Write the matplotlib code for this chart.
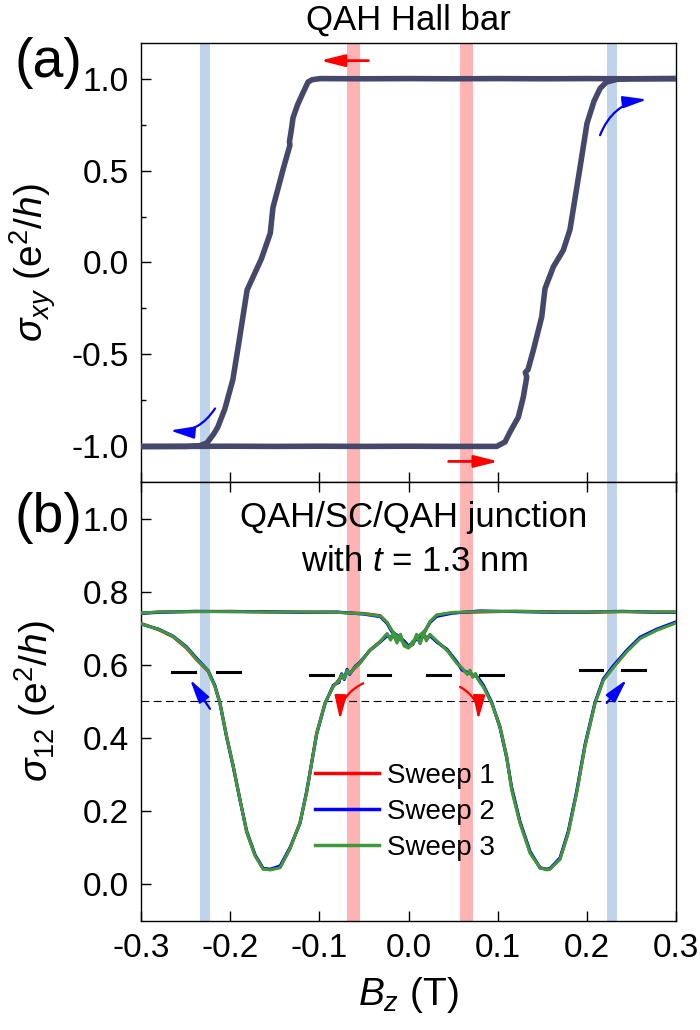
import numpy as np
import matplotlib
matplotlib.use("Agg")
import matplotlib.pyplot as plt
from matplotlib.ticker import MultipleLocator, FormatStrFormatter

plt.rcParams['font.family'] = ['Liberation Sans', 'DejaVu Sans']
plt.rcParams['mathtext.fontset'] = 'custom'
plt.rcParams['mathtext.rm'] = 'Liberation Sans'
plt.rcParams['mathtext.it'] = 'Liberation Sans:italic'
plt.rcParams['mathtext.bf'] = 'Liberation Sans:bold'
plt.rcParams['axes.unicode_minus'] = False


# (a) Hall bar hysteresis loop, sigma_xy in e^2/h
hb_down_x = [0.300, 0.250, 0.200, 0.150, 0.100, 0.050, 0.000, -0.050, -0.099, -0.108,
             -0.1127, -0.116, -0.118, -0.1245, -0.1295, -0.1315, -0.1335, -0.133, -0.140, -0.152,
             -0.155, -0.165, -0.181, -0.190, -0.197, -0.206, -0.214, -0.219, -0.226, -0.234,
             -0.250, -0.300]
hb_down_y = [1.004, 1.003, 1.004, 1.003, 1.004, 1.003, 1.004, 1.003, 1.004, 0.998,
             0.985, 0.95, 0.93, 0.86, 0.79, 0.72, 0.66, 0.64, 0.52, 0.30,
             0.16, 0.02, -0.15, -0.43, -0.64, -0.80, -0.90, -0.94, -0.985, -1.0,
             -1.004, -1.005]
hb_up_x = [-0.300, -0.250, -0.200, -0.150, -0.100, -0.050, 0.000, 0.050, 0.0989, 0.1082,
           0.1138, 0.1232, 0.1288, 0.1326, 0.1310, 0.134, 0.140, 0.1494, 0.1531, 0.1624,
           0.1736, 0.1811, 0.1924, 0.2002, 0.2080, 0.2148, 0.222, 0.2338, 0.250, 0.300]
hb_up_y = [-1.004, -1.004, -1.003, -1.004, -1.003, -1.004, -1.003, -1.004, -1.004, -0.98,
           -0.926, -0.844, -0.734, -0.625, -0.60, -0.585, -0.479, -0.297, -0.142, -0.024,
           0.067, 0.18, 0.52, 0.76, 0.88, 0.95, 0.985, 1.0, 1.003, 1.004]

# (b) junction sigma_12, branch dipping on the left (L) and on the right (R)
jl_x = [-0.300, -0.280, -0.264, -0.249, -0.2375, -0.2245, -0.217, -0.2114, -0.204, -0.1965,
        -0.189, -0.1815, -0.172, -0.163, -0.155, -0.144, -0.133, -0.1217, -0.1142, -0.103,
        -0.0936, -0.0843, -0.078, -0.075, -0.072, -0.069, -0.066, -0.060, -0.0544, -0.0432,
        -0.032, -0.024, -0.020, -0.017, -0.013, -0.009, -0.005, 0.000, 0.005, 0.0129,
        0.0185, 0.0241, 0.0316, 0.050, 0.080, 0.120, 0.160, 0.200, 0.240, 0.280, 0.300]
jl_s1 = [0.714, 0.696, 0.677, 0.646, 0.614, 0.582, 0.541, 0.496, 0.405, 0.323,
         0.232, 0.142, 0.078, 0.042, 0.040, 0.046, 0.096, 0.169, 0.251, 0.414,
         0.496, 0.541, 0.560, 0.572, 0.566, 0.582, 0.578, 0.592, 0.605, 0.641,
         0.664, 0.684, 0.670, 0.688, 0.662, 0.680, 0.655, 0.648, 0.664, 0.682,
         0.691, 0.718, 0.736, 0.743, 0.745, 0.747, 0.746, 0.744, 0.746, 0.745, 0.745]
jl_s2 = [0.712, 0.698, 0.679, 0.650, 0.618, 0.584, 0.543, 0.494, 0.402, 0.320,
         0.230, 0.146, 0.080, 0.043, 0.041, 0.050, 0.100, 0.166, 0.255, 0.410,
         0.494, 0.545, 0.552, 0.576, 0.560, 0.588, 0.574, 0.596, 0.608, 0.640,
         0.662, 0.680, 0.676, 0.682, 0.666, 0.674, 0.660, 0.650, 0.662, 0.680,
         0.694, 0.716, 0.733, 0.742, 0.748, 0.746, 0.744, 0.745, 0.747, 0.744, 0.744]
jl_s3 = [0.713, 0.697, 0.678, 0.648, 0.615, 0.583, 0.540, 0.495, 0.404, 0.322,
         0.231, 0.143, 0.077, 0.041, 0.039, 0.045, 0.097, 0.168, 0.252, 0.412,
         0.495, 0.542, 0.556, 0.574, 0.562, 0.585, 0.576, 0.594, 0.606, 0.640,
         0.663, 0.686, 0.668, 0.690, 0.660, 0.684, 0.652, 0.646, 0.665, 0.683,
         0.692, 0.719, 0.737, 0.744, 0.746, 0.747, 0.745, 0.745, 0.746, 0.745, 0.745]

jr_x = [-0.300, -0.280, -0.240, -0.200, -0.160, -0.120, -0.080, -0.050, -0.0316, -0.0241,
        -0.0185, -0.0129, -0.005, 0.000, 0.005, 0.009, 0.013, 0.017, 0.020, 0.024,
        0.032, 0.0432, 0.0544, 0.060, 0.066, 0.069, 0.072, 0.075, 0.078, 0.0839,
        0.0933, 0.1026, 0.1101, 0.1157, 0.125, 0.1363, 0.1475, 0.155, 0.1587, 0.1699,
        0.1792, 0.1886, 0.1979, 0.2092, 0.2185, 0.2297, 0.2447, 0.2596, 0.2783, 0.300]
jr_s1 = [0.742, 0.745, 0.746, 0.747, 0.745, 0.745, 0.744, 0.741, 0.735, 0.716,
         0.693, 0.680, 0.662, 0.650, 0.656, 0.680, 0.660, 0.690, 0.668, 0.682,
         0.664, 0.641, 0.605, 0.590, 0.576, 0.584, 0.568, 0.575, 0.562, 0.541,
         0.496, 0.432, 0.350, 0.260, 0.169, 0.087, 0.046, 0.040, 0.042, 0.069,
         0.142, 0.251, 0.378, 0.496, 0.559, 0.594, 0.637, 0.673, 0.696, 0.716]
jr_s2 = [0.741, 0.744, 0.747, 0.746, 0.746, 0.744, 0.745, 0.739, 0.732, 0.714,
         0.690, 0.682, 0.666, 0.652, 0.660, 0.674, 0.664, 0.684, 0.672, 0.680,
         0.662, 0.643, 0.608, 0.586, 0.580, 0.578, 0.572, 0.570, 0.566, 0.545,
         0.498, 0.428, 0.345, 0.265, 0.172, 0.090, 0.044, 0.041, 0.043, 0.072,
         0.145, 0.255, 0.382, 0.498, 0.562, 0.598, 0.640, 0.676, 0.698, 0.718]
jr_s3 = [0.742, 0.745, 0.746, 0.746, 0.745, 0.745, 0.744, 0.740, 0.734, 0.717,
         0.694, 0.679, 0.660, 0.648, 0.657, 0.684, 0.658, 0.692, 0.666, 0.684,
         0.665, 0.640, 0.604, 0.592, 0.574, 0.586, 0.566, 0.577, 0.560, 0.540,
         0.495, 0.430, 0.348, 0.258, 0.167, 0.085, 0.045, 0.039, 0.041, 0.068,
         0.140, 0.250, 0.377, 0.495, 0.558, 0.593, 0.636, 0.672, 0.695, 0.715]

sweep_labels = ["Sweep 1", "Sweep 2", "Sweep 3"]
sweep_colors = ["#ff0000", "#0000ff", "#3c9a3c"]

# shaded field positions (T)
blue_bands = [-0.228, 0.228]
red_bands = [-0.062, 0.065]

# half-quantized plateau markers: (start, end, level)
plateaus = [(-0.2656, -0.2394, 0.582), (-0.2151, -0.1889, 0.582),
            (-0.1105, -0.0843, 0.573), (-0.0451, -0.0207, 0.573),
            (0.0204, 0.0465, 0.573), (0.0800, 0.1063, 0.573),
            (0.1923, 0.2167, 0.585), (0.2390, 0.2650, 0.585)]


fig = plt.figure(figsize=(7, 10.3), dpi=100)
ax1 = fig.add_axes([0.20143, 0.53175, 0.76429, 0.42680])
ax2 = fig.add_axes([0.20143, 0.10612, 0.76429, 0.42563])

for ax in (ax1, ax2):
    for b in blue_bands:
        ax.axvspan(b - 0.0056, b + 0.0056, color="#bfd4ea", lw=0, zorder=0)
    for b in red_bands:
        ax.axvspan(b - 0.0075, b + 0.0075, color="#ffb3b3", lw=0, zorder=0)
    ax.set_xlim(-0.3, 0.3)
    ax.xaxis.set_major_locator(MultipleLocator(0.1))
    ax.xaxis.set_major_formatter(FormatStrFormatter('%.1f'))
    ax.yaxis.set_major_formatter(FormatStrFormatter('%.1f'))
    ax.tick_params(which='both', direction='in', width=1, labelsize=24, pad=9,
                   top=False, right=False)
    ax.tick_params(which='major', length=7)
    ax.tick_params(which='minor', length=3.6)
    for s in ax.spines.values():
        s.set_linewidth(1)

# (a)
ax1.plot(hb_down_x, hb_down_y, color="#45476b", lw=4, solid_capstyle='round',
         solid_joinstyle='round', zorder=3)
ax1.plot(hb_up_x, hb_up_y, color="#45476b", lw=4, solid_capstyle='round',
         solid_joinstyle='round', zorder=3)
ax1.set_ylim(-1.2, 1.2)
ax1.yaxis.set_major_locator(MultipleLocator(0.5))
ax1.yaxis.set_minor_locator(MultipleLocator(0.25))
ax1.tick_params(labelbottom=False)
ax1.set_ylabel(r'$\sigma_{xy}$ (e$^2$/$h$)', fontsize=28)
ax1.yaxis.set_label_coords(-0.155, 0.5)
ax1.text(0.5, 1.052, "QAH Hall bar", transform=ax1.transAxes, ha='center',
         va='center', fontsize=25)

red_head = '-|>,head_length=1.2,head_width=0.3'
ax1.annotate('', xy=(-0.099, 1.102), xytext=(-0.045, 1.102),
             arrowprops=dict(arrowstyle=red_head, color='red', lw=2,
                             mutation_scale=12, shrinkA=0, shrinkB=0))
ax1.annotate('', xy=(0.101, -1.086), xytext=(0.045, -1.086),
             arrowprops=dict(arrowstyle=red_head, color='red', lw=2,
                             mutation_scale=12, shrinkA=0, shrinkB=0))
ax1.annotate('', xy=(0.2675, 0.89), xytext=(0.2148, 0.695),
             arrowprops=dict(arrowstyle=red_head, color='blue', lw=1.6,
                             mutation_scale=12, shrinkA=0, shrinkB=0,
                             connectionstyle='arc3,rad=-0.3'))
ax1.annotate('', xy=(-0.2675, -0.917), xytext=(-0.217, -0.797),
             arrowprops=dict(arrowstyle=red_head, color='blue', lw=1.6,
                             mutation_scale=12, shrinkA=0, shrinkB=0,
                             connectionstyle='arc3,rad=-0.3'))

# (b)
ax2.axhline(0.5, color='black', lw=0.8, ls=(0, (7, 4)), zorder=1)
for x0, x1, lev in plateaus:
    ax2.plot([x0, x1], [lev, lev], color='black', lw=2.2, zorder=2)

for ys_l, ys_r, lab, c in zip((jl_s1, jl_s2, jl_s3), (jr_s1, jr_s2, jr_s3),
                              sweep_labels, sweep_colors):
    ax2.plot(jl_x, ys_l, color=c, lw=2.2, label=lab, zorder=3)
    ax2.plot(jr_x, ys_r, color=c, lw=2.2, zorder=3)

ax2.set_ylim(-0.1, 1.1)
ax2.yaxis.set_major_locator(MultipleLocator(0.2))
ax2.tick_params(top=True, which='major')
ax2.set_ylabel(r'$\sigma_{12}$ (e$^2$/$h$)', fontsize=28)
ax2.yaxis.set_label_coords(-0.155, 0.5)
ax2.set_xlabel(r'$B_z$ (T)', fontsize=28, labelpad=8)

ax2.text(0.006, 0.977, "QAH/SC/QAH junction", ha='center', va='baseline', fontsize=25)
ax2.text(0.006, 0.858, "with $t$ = 1.3 nm", ha='center', va='baseline', fontsize=25)

ax2.annotate('', xy=(-0.0768, 0.45), xytext=(-0.0507, 0.55),
             arrowprops=dict(arrowstyle=red_head, color='red', lw=1.6,
                             mutation_scale=12, shrinkA=0, shrinkB=0,
                             connectionstyle='arc3,rad=0.3'))
ax2.annotate('', xy=(0.0783, 0.45), xytext=(0.0578, 0.54),
             arrowprops=dict(arrowstyle=red_head, color='red', lw=1.6,
                             mutation_scale=12, shrinkA=0, shrinkB=0,
                             connectionstyle='arc3,rad=-0.3'))
ax2.annotate('', xy=(-0.245, 0.56), xytext=(-0.2226, 0.48),
             arrowprops=dict(arrowstyle=red_head, color='blue', lw=1.6,
                             mutation_scale=12, shrinkA=0, shrinkB=0))
ax2.annotate('', xy=(0.2447, 0.56), xytext=(0.2223, 0.496),
             arrowprops=dict(arrowstyle=red_head, color='blue', lw=1.6,
                             mutation_scale=12, shrinkA=0, shrinkB=0))

leg = ax2.legend(loc='upper left', bbox_to_anchor=(0.325, 0.36), frameon=False,
                 fontsize=20, handlelength=2.3, handletextpad=0.3,
                 labelspacing=0.36, borderpad=0, borderaxespad=0)
for h in leg.get_lines():
    h.set_linewidth(2.5)

fig.text(48 / 700, 1 - 63 / 1030, "(a)", ha='center', va='center', fontsize=40)
fig.text(48 / 700, 1 - 518 / 1030, "(b)", ha='center', va='center', fontsize=40)

fig.savefig("out.png", dpi=100)
